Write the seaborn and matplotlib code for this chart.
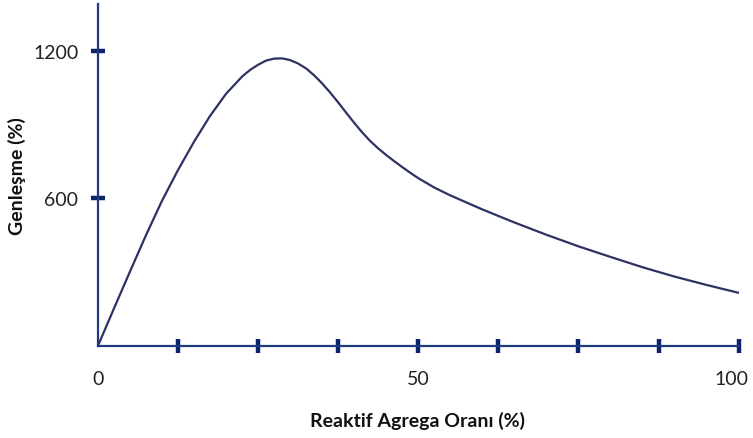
import matplotlib
matplotlib.use('Agg')
import matplotlib.pyplot as plt
import matplotlib.transforms as mtransforms
import seaborn as sns
import pandas as pd

# Reaktif agrega orani (%) vs genlesme (%)
oran = [0, 2.5, 5, 7.5, 10, 12.5, 15, 17.5, 20, 22.5, 23.75, 25, 26.25, 27.5,
        28.75, 30, 31.25, 32.5, 33.75, 35, 36.25, 37.5, 38.75, 40, 41.25, 42.5,
        43.75, 45, 46.25, 47.5, 48.75, 50, 52.5, 55, 60, 65, 70, 75, 80, 85,
        90, 95, 100]
genlesme = [0, 152, 302, 450, 590, 715, 830, 935, 1025, 1095, 1122, 1143, 1160,
            1168, 1169, 1162, 1148, 1128, 1100, 1067, 1030, 990, 948, 907, 868,
            833, 803, 776, 751, 727, 704, 682, 644, 612, 555, 502, 452, 405,
            362, 320, 282, 248, 216]

x_ticks = [0, 12.5, 25, 37.5, 50, 62.5, 75, 87.5, 100]
x_tick_labels = ['0', '', '', '', '50', '', '', '', '100']
y_ticks = [600, 1200]
y_tick_labels = ['600', '1200']

data = pd.DataFrame({'oran': oran, 'genlesme': genlesme})

sns.set_theme(style="white")
plt.rcParams['font.family'] = ['Lato', 'DejaVu Sans']

axis_color = '#1f3a80'
tick_color = '#0b2468'
line_color = '#2c3262'

fig = plt.figure(figsize=(7.53, 4.39), dpi=100)
ax = fig.add_axes([0.130, 0.2096, 0.851, 0.779])

sns.lineplot(data=data, x='oran', y='genlesme', color=line_color, linewidth=1.6,
             solid_joinstyle='round', ax=ax)

ax.set_xlim(0, 100)
ax.set_ylim(0, 1390)

for side in ['top', 'right']:
    ax.spines[side].set_visible(False)
for side in ['left', 'bottom']:
    ax.spines[side].set_color(axis_color)
    ax.spines[side].set_linewidth(1.6)

ax.set_xticks(x_ticks)
ax.set_xticklabels(x_tick_labels)
ax.set_yticks(y_ticks)
ax.set_yticklabels(y_tick_labels)
ax.tick_params(axis='x', bottom=True, direction='inout', length=10, width=3.2,
               color=tick_color, labelsize=14, labelcolor='#222222', pad=12)
ax.tick_params(axis='y', left=True, direction='inout', length=10, width=3.2,
               color=tick_color, labelsize=14, labelcolor='#222222', pad=9)
ax.xaxis.get_major_ticks()[0].tick1line.set_visible(False)

# last label sits a bit left of its tick, as in the original
last = ax.get_xticklabels()[-1]
last.set_transform(last.get_transform() +
                   mtransforms.ScaledTranslation(-7 / 100, 0, fig.dpi_scale_trans))

ax.set_xlabel('Reaktif Agrega Oranı (%)', fontsize=14, fontweight='bold',
              color='#111111')
ax.xaxis.set_label_coords(0.499, -0.19)
ax.set_ylabel('Genleşme (%)', fontsize=14, fontweight='bold', color='#111111')
ax.yaxis.set_label_coords(-0.112, 0.5)

plt.savefig('out.png', dpi=100)
plt.close()
